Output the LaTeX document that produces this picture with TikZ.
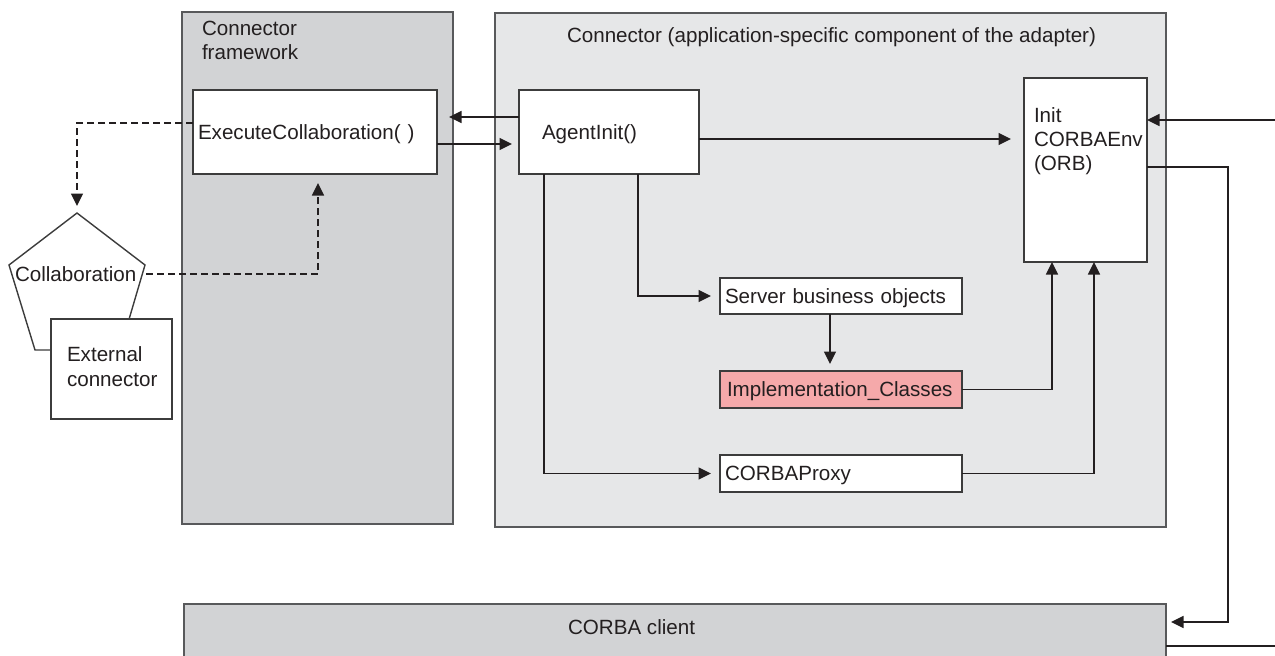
\documentclass[tikz,border=0pt]{standalone}
\usepackage{fontspec}
\setmainfont{Liberation Sans}
\usetikzlibrary{arrows.meta}
\definecolor{fwgray}{HTML}{D2D3D5}
\definecolor{cngray}{HTML}{E6E7E8}
\definecolor{implpink}{HTML}{F5A9AA}
\definecolor{ink}{HTML}{231F20}
\definecolor{boxline}{HTML}{3C3C3C}
\definecolor{framegray}{HTML}{58595B}
\begin{document}
\begin{tikzpicture}[x=1pt,y=-1pt, font=\fontsize{20.6}{24}\selectfont, text=ink,
  every node/.style={inner sep=0pt, outer sep=0pt},
  frame/.style={draw=framegray, line width=1.5pt},
  rect/.style={draw=boxline, line width=1.4pt, fill=white},
  box/.style={rect, inner ysep=0pt, align=left, text height=14.8pt, text depth=0pt},
  lbl/.style={text height=14.8pt, text depth=0pt},
  conn/.style={draw=ink, line width=1.4pt, -{Triangle[length=12.5pt,width=12pt]}},
  plainline/.style={draw=ink, line width=1.4pt},
  dashline/.style={conn, dash pattern=on 7pt off 4pt}]
\useasboundingbox (0,0) rectangle (1275,656);

% helper rows and columns
\coordinate (r117) at (0,117);
\coordinate (r123) at (0,123);
\coordinate (r139) at (0,139);
\coordinate (r144) at (0,144);
\coordinate (r167) at (0,167);
\coordinate (c318) at (318,0);
\coordinate (c544) at (544,0);
\coordinate (c638) at (638,0);
\coordinate (c830) at (830,0);
\coordinate (c1052) at (1052,0);
\coordinate (c1094) at (1094,0);

% large frames
\node[frame, fill=fwgray, minimum width=271pt, minimum height=512pt] (fw) at (317.5,268) {};
\node[frame, fill=cngray, minimum width=671pt, minimum height=514pt] (cn) at (830.5,270) {};
\node[frame, fill=fwgray, minimum width=982pt, minimum height=80pt, anchor=north west] (corba) at (184,604) {};

\node[anchor=north west, align=left] (fwlbl) at (202,21) {Connector\\framework};
\node[lbl, anchor=west] (cntitle) at (567,35) {Connector (application-specific component of the adapter)};
\node[lbl, anchor=west] (corbalbl) at (568,627) {CORBA client};

% boxes
\node[box, inner xsep=5pt, text width=234pt, minimum height=84pt] (exec) at (315,132) {ExecuteCollaboration( )};
\node[box, inner xsep=23pt, text width=134pt, minimum height=84pt] (agent) at (609,132) {AgentInit()};
\node[rect, minimum width=123pt, minimum height=184pt] (init) at (1085.5,170) {};
\node[anchor=north west, align=left] (initlbl) at (1034,107.7) {Init\\CORBAEnv\\(ORB)};
\node[box, inner xsep=5pt, text width=232pt, minimum height=36pt] (server) at (841,296) {Server business objects};
\node[box, fill=implpink, inner xsep=7pt, text width=228pt, minimum height=37pt] (impl) at (841,389.5) {Implementation\_Classes};
\node[box, inner xsep=5pt, text width=232pt, minimum height=37pt] (proxy) at (841,473.5) {CORBAProxy};

% collaboration pentagon and external connector
\coordinate (pa) at (77,213);
\coordinate (pb) at (145,265);
\coordinate (pc) at (120,350);
\coordinate (pd) at (35,350);
\coordinate (pe) at (9,265);
\draw[rect] (pa) -- (pb) -- (pc) -- (pd) -- (pe) -- cycle;
\node[lbl, anchor=west] (collab) at (15,274) {Collaboration};
\node[rect, minimum width=121pt, minimum height=100pt] (ext) at (111.5,369) {};
\node[anchor=north west, align=left, font=\fontsize{20.6}{25}\selectfont] (extlbl) at (67,346.7) {External\\connector};

% connectors
\draw[conn, shorten >=12pt] (agent.west |- r117) -- (exec.east |- r117);
\draw[conn, shorten >=7pt] (exec.east |- r144) -- (agent.west |- r144);
\draw[conn, shorten >=13pt] (agent.east |- r139) -- (init.west |- r139);
\coordinate (inR) at (1275,120);
\draw[conn] (inR) -- (init.east |- inR);
\coordinate (bend1) at (1228,622);
\draw[conn, shorten >=5pt] (init.east |- r167) -| (bend1) -- (corba.east |- bend1);
\coordinate (outR) at (1275,646);
\draw[plainline] (corba.east |- outR) -- (outR);
\draw[conn, shorten >=9pt] (agent.south -| c638) |- (server.west);
\draw[conn, shorten >=9pt] (agent.south -| c544) |- (proxy.west);
\draw[conn, shorten >=7pt] (server.south -| c830) -- (impl.north -| c830);
\draw[conn] (impl.east) -| (init.south -| c1052);
\draw[conn] (proxy.east) -| (init.south -| c1094);
\draw[dashline, shorten >=7pt] (exec.west |- r123) -| (pa);
\coordinate (pr) at (146,274);
\draw[dashline, shorten >=9pt] (pr) -| (exec.south -| c318);
\end{tikzpicture}
\end{document}
